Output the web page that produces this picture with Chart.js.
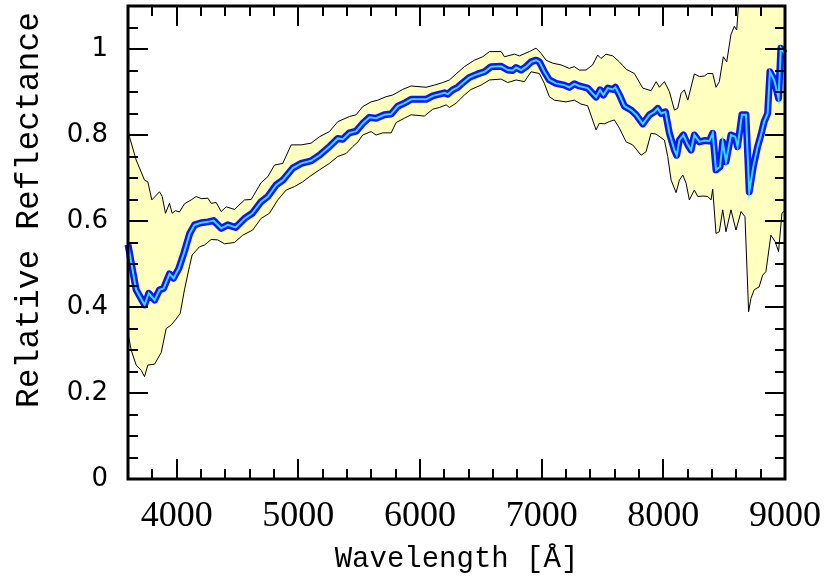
<!DOCTYPE html>
<html>
<head>
<meta charset="utf-8">
<script src="https://cdn.jsdelivr.net/npm/chart.js@4.4.1/dist/chart.umd.min.js"></script>
<style>
  html, body { margin: 0; padding: 0; background: #fff; }
  canvas { display: block; }
</style>
</head>
<body>
<canvas id="spectrum" width="825" height="578"></canvas>
<script>
// mean reflectance spectrum
const meanWave = [3600, 3667, 3736, 3771, 3818, 3859, 3892, 3941, 3974, 4018, 4059, 4107, 4147, 4202, 4257, 4303,
  4366, 4420, 4484, 4558, 4621, 4694, 4749, 4818, 4872, 4954, 5023, 5105, 5174, 5256, 5324, 5365, 5420, 5475,
  5529, 5584, 5639, 5707, 5763, 5817, 5872, 5927, 5995, 6050, 6105, 6160, 6201, 6228, 6269, 6310, 6351, 6406,
  6475, 6530, 6585, 6667, 6721, 6762, 6790, 6831, 6872, 6913, 6954, 6981, 7022, 7063, 7118, 7186, 7227, 7268,
  7309, 7378, 7447, 7480, 7507, 7543, 7584, 7606, 7639, 7680, 7735, 7776, 7831, 7886, 7927, 7954, 7982, 8017,
  8050, 8091, 8110, 8132, 8165, 8201, 8228, 8255, 8296, 8337, 8378, 8406, 8433, 8466, 8488, 8515, 8556, 8591,
  8610, 8646, 8679, 8706, 8739, 8775, 8802, 8829, 8857, 8876, 8911, 8947, 8966, 8995];
const meanRefl = [0.545, 0.44, 0.405, 0.432, 0.416, 0.44, 0.443, 0.477, 0.467, 0.49, 0.525, 0.571, 0.591, 0.596, 0.598, 0.601,
  0.583, 0.591, 0.585, 0.606, 0.618, 0.645, 0.657, 0.684, 0.695, 0.723, 0.734, 0.740, 0.753, 0.773, 0.792, 0.790, 0.805, 0.809,
  0.827, 0.841, 0.839, 0.847, 0.849, 0.867, 0.874, 0.883, 0.883, 0.883, 0.891, 0.895, 0.898, 0.895, 0.905, 0.911, 0.921, 0.934,
  0.942, 0.947, 0.959, 0.960, 0.951, 0.950, 0.957, 0.951, 0.959, 0.970, 0.974, 0.970, 0.947, 0.928, 0.920, 0.916, 0.911, 0.919,
  0.914, 0.909, 0.888, 0.905, 0.893, 0.909, 0.906, 0.911, 0.893, 0.867, 0.858, 0.847, 0.826, 0.847, 0.854, 0.862, 0.850, 0.854,
  0.804, 0.765, 0.753, 0.788, 0.800, 0.777, 0.765, 0.800, 0.784, 0.787, 0.786, 0.804, 0.719, 0.726, 0.784, 0.738, 0.800, 0.796,
  0.773, 0.847, 0.847, 0.668, 0.726, 0.773, 0.800, 0.831, 0.850, 0.947, 0.928, 0.885, 1.002, 0.990];

// upper envelope
const upperWave = [3600, 3612, 3667, 3736, 3763, 3796, 3859, 3881, 3908, 3941, 3963, 3990, 4023, 4064, 4119, 4160, 4202,
  4257, 4284, 4325, 4366, 4407, 4475, 4558, 4612, 4694, 4749, 4804, 4872, 4941, 5023, 5105, 5174, 5256, 5324, 5420,
  5475, 5529, 5598, 5653, 5721, 5776, 5858, 5927, 6050, 6118, 6187, 6242, 6297, 6365, 6447, 6516, 6571, 6667, 6694,
  6776, 6817, 6899, 6954, 6995, 7036, 7091, 7159, 7227, 7268, 7309, 7364, 7419, 7460, 7488, 7529, 7584, 7639, 7694,
  7762, 7831, 7899, 7941, 7968, 8009, 8050, 8091, 8118, 8146, 8173, 8201, 8255, 8296, 8337, 8365, 8406, 8433, 8460,
  8493, 8521, 8556, 8584, 8603, 8625, 8700, 8800, 8900, 9000];
const upperRefl = [0.815, 0.796, 0.742, 0.695, 0.691, 0.649, 0.668, 0.657, 0.618, 0.641, 0.618, 0.624, 0.621, 0.640, 0.649, 0.657, 0.652,
  0.653, 0.641, 0.643, 0.622, 0.633, 0.627, 0.649, 0.650, 0.689, 0.703, 0.730, 0.734, 0.777, 0.777, 0.781, 0.796, 0.808, 0.831, 0.843,
  0.847, 0.866, 0.877, 0.881, 0.889, 0.893, 0.906, 0.914, 0.911, 0.916, 0.922, 0.928, 0.942, 0.959, 0.974, 0.982, 0.994, 0.994, 0.982,
  0.988, 0.984, 0.994, 1.002, 0.990, 0.974, 0.967, 0.963, 0.955, 0.959, 0.951, 0.951, 0.963, 0.986, 0.978, 0.988, 0.984, 0.970, 0.953,
  0.943, 0.909, 0.903, 0.924, 0.911, 0.924, 0.901, 0.858, 0.862, 0.897, 0.905, 0.881, 0.942, 0.936, 0.937, 0.943, 0.943, 0.911, 0.924,
  0.982, 0.970, 1.034, 1.053, 1.044, 1.13, 1.25, 1.3, 1.3, 1.3];

// lower envelope
const lowerWave = [3600, 3626, 3667, 3708, 3736, 3763, 3818, 3873, 3914, 3955, 3990, 4029, 4064, 4105, 4127, 4188, 4229,
  4284, 4338, 4393, 4475, 4543, 4625, 4694, 4763, 4831, 4900, 4968, 5036, 5091, 5174, 5256, 5324, 5393, 5447, 5490,
  5529, 5598, 5639, 5694, 5763, 5804, 5872, 5927, 6036, 6105, 6160, 6215, 6242, 6297, 6365, 6420, 6502, 6571, 6667,
  6721, 6790, 6858, 6913, 6981, 7022, 7063, 7104, 7200, 7268, 7323, 7378, 7447, 7474, 7515, 7556, 7597, 7639, 7694,
  7748, 7817, 7858, 7899, 7941, 8009, 8036, 8064, 8105, 8132, 8160, 8187, 8214, 8255, 8283, 8324, 8365, 8392, 8406,
  8433, 8460, 8488, 8515, 8556, 8597, 8639, 8671, 8701, 8720, 8747, 8788, 8816, 8843, 8884, 8919, 8947, 8975, 9000];
const lowerRefl = [0.339, 0.300, 0.265, 0.253, 0.238, 0.265, 0.267, 0.294, 0.350, 0.358, 0.370, 0.385, 0.440, 0.494, 0.521, 0.540, 0.544,
  0.557, 0.556, 0.547, 0.550, 0.567, 0.579, 0.606, 0.618, 0.649, 0.672, 0.680, 0.691, 0.703, 0.719, 0.734, 0.750, 0.757, 0.773, 0.784,
  0.800, 0.808, 0.800, 0.805, 0.805, 0.829, 0.839, 0.847, 0.844, 0.860, 0.864, 0.870, 0.864, 0.874, 0.893, 0.906, 0.916, 0.928, 0.930,
  0.922, 0.928, 0.924, 0.947, 0.943, 0.920, 0.889, 0.881, 0.877, 0.881, 0.872, 0.868, 0.812, 0.827, 0.826, 0.831, 0.835, 0.816, 0.784,
  0.777, 0.753, 0.761, 0.804, 0.802, 0.788, 0.750, 0.695, 0.666, 0.695, 0.707, 0.688, 0.649, 0.672, 0.657, 0.658, 0.657, 0.649, 0.674,
  0.571, 0.575, 0.626, 0.575, 0.626, 0.579, 0.622, 0.610, 0.389, 0.420, 0.440, 0.447, 0.474, 0.482, 0.567, 0.552, 0.529, 0.618, 0.625];

const xTickValues = [4000, 5000, 6000, 7000, 8000, 9000];
const yTickValues = [0, 0.2, 0.4, 0.6, 0.8, 1];
const yTickLabels = ['0', '0.2', '0.4', '0.6', '0.8', '1'];
const yTitle = 'Relative Reflectance';

function toPoints(xs, ys) { return xs.map((x, i) => ({ x: x, y: ys[i] })); }

// closed band: upper left->right, then lower right->left
const bandPoints = toPoints(upperWave, upperRefl).concat(toPoints(lowerWave, lowerRefl).reverse());
const meanPoints = toPoints(meanWave, meanRefl);

function noPad(s) { s.paddingTop = 0; s.paddingBottom = 0; s.paddingLeft = 0; s.paddingRight = 0; }

// inward ticks on all four sides + heavy frame + y title
const frameTicks = {
  id: 'frameTicks',
  afterDatasetsDraw(chart) {
    const { ctx, chartArea: a, scales: { x, y } } = chart;
    ctx.save();
    ctx.strokeStyle = '#000';
    ctx.lineWidth = 2;
    ctx.beginPath();
    for (let v = 3600; v <= 9000; v += 200) {
      const px = Math.round(x.getPixelForValue(v));
      const len = xTickValues.includes(v) ? 20 : 10;
      ctx.moveTo(px, a.bottom); ctx.lineTo(px, a.bottom - len);
      ctx.moveTo(px, a.top); ctx.lineTo(px, a.top + len);
    }
    for (let i = 0; i <= 22; i++) {
      const py = Math.round(y.getPixelForValue(i * 0.05));
      const len = i % 4 === 0 ? 20 : 10;
      ctx.moveTo(a.left, py); ctx.lineTo(a.left + len, py);
      ctx.moveTo(a.right, py); ctx.lineTo(a.right - len, py);
    }
    ctx.stroke();
    ctx.lineWidth = 3;
    ctx.strokeRect(a.left, a.top, a.right - a.left, a.bottom - a.top);

    // y title sits a bit above the axis middle, as in the original
    ctx.translate(29, 210);
    ctx.rotate(-Math.PI / 2);
    ctx.fillStyle = '#000';
    ctx.font = '33px "Liberation Mono"';
    ctx.textAlign = 'center';
    ctx.textBaseline = 'middle';
    ctx.fillText(yTitle, 0, 0);
    ctx.restore();
  }
};

function initChart() {
  const ctx = document.getElementById('spectrum').getContext('2d');
  new Chart(ctx, {
    type: 'line',
    data: {
      datasets: [
        { data: meanPoints, borderColor: '#33e0ff', borderWidth: 2, pointRadius: 0, tension: 0, fill: false, order: 1, clip: 6 },
        { data: meanPoints, borderColor: '#0a14ff', borderWidth: 7, pointRadius: 0, tension: 0, fill: false, order: 2, clip: 6,
          borderJoinStyle: 'round' },
        { data: bandPoints, borderColor: '#000', borderWidth: 1, backgroundColor: '#ffffc0', pointRadius: 0, tension: 0,
          fill: 'shape', order: 3 }
      ]
    },
    options: {
      responsive: false,
      animation: false,
      devicePixelRatio: 1,
      layout: { padding: { top: 6, right: 40 } },
      plugins: { legend: { display: false }, tooltip: { enabled: false } },
      scales: {
        x: {
          type: 'linear', min: 3600, max: 9000,
          afterBuildTicks: s => { s.ticks = xTickValues.map(v => ({ value: v })); },
          afterFit: s => { s.height = 99; noPad(s); },
          grid: { display: false, drawTicks: false },
          border: { display: false },
          ticks: { color: '#000', padding: 20, maxRotation: 0, autoSkip: false,
            font: { family: 'Liberation Serif', size: 36, lineHeight: 1 },
            callback: v => String(v) },
          title: { display: true, text: 'Wavelength [Å]', color: '#000',
            font: { family: 'Liberation Mono', size: 29, lineHeight: 1 }, padding: { top: 0, bottom: 4 } }
        },
        y: {
          type: 'linear', min: 0, max: 1.1,
          afterBuildTicks: s => { s.ticks = yTickValues.map(v => ({ value: v })); },
          afterFit: s => { s.width = 128; noPad(s); },
          grid: { display: false, drawTicks: false },
          border: { display: false },
          ticks: { color: '#000', padding: 20, autoSkip: false,
            font: { family: 'DejaVu Sans', size: 26, lineHeight: 1 },
            callback: v => yTickLabels[yTickValues.indexOf(v)] }
        }
      }
    },
    plugins: [frameTicks]
  });
}

window.onload = initChart;
</script>
</body>
</html>
